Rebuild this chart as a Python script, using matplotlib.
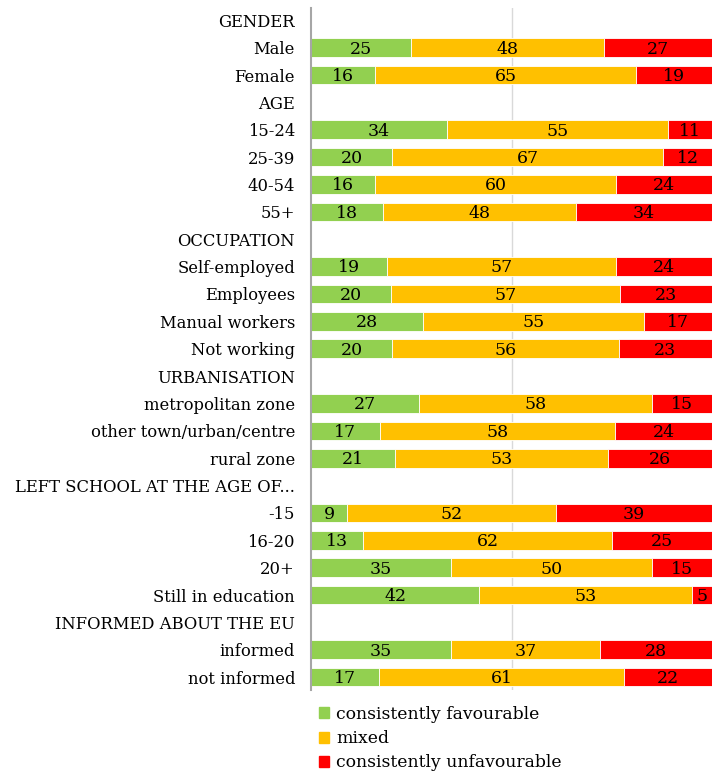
import matplotlib.pyplot as plt
import numpy as np

plt.rcParams['font.family'] = ['DejaVu Serif', 'Liberation Serif']

labels = ['GENDER', 'Male', 'Female', 'AGE', '15-24', '25-39', '40-54', '55+',
          'OCCUPATION', 'Self-employed', 'Employees', 'Manual workers', 'Not working',
          'URBANISATION', 'metropolitan zone', 'other town/urban/centre', 'rural zone',
          'LEFT SCHOOL AT THE AGE OF...', '-15', '16-20', '20+', 'Still in education',
          'INFORMED ABOUT THE EU', 'informed', 'not informed']
# None = header row (no bar)
favourable = [None, 25, 16, None, 34, 20, 16, 18, None, 19, 20, 28, 20,
              None, 27, 17, 21, None, 9, 13, 35, 42, None, 35, 17]
mixed = [None, 48, 65, None, 55, 67, 60, 48, None, 57, 57, 55, 56,
         None, 58, 58, 53, None, 52, 62, 50, 53, None, 37, 61]
unfavourable = [None, 27, 19, None, 11, 12, 24, 34, None, 24, 23, 17, 23,
                None, 15, 24, 26, None, 39, 25, 15, 5, None, 28, 22]

series = ['consistently favourable', 'mixed', 'consistently unfavourable']
colors = ['#92d050', '#ffc000', '#ff0000']

fig = plt.figure(figsize=(7.13, 7.73), dpi=100)
ax = fig.add_axes([311 / 713, 83 / 773, 401 / 713, 682 / 773])

y = np.arange(len(labels))
for i in range(len(labels)):
    if favourable[i] is None:
        continue
    vals = [favourable[i], mixed[i], unfavourable[i]]
    tot = sum(vals)
    left = 0
    for v, c in zip(vals, colors):
        w = v / tot * 100
        ax.barh(y[i], w, left=left, height=0.68, color=c, edgecolor='white', linewidth=0.6)
        ax.text(left + w / 2, y[i] + 0.05, str(v), ha='center', va='center', fontsize=12.5, color='black')
        left += w

ax.set_xlim(0, 100)
ax.set_ylim(len(labels) - 0.53, -0.45)
ax.set_yticks(y)
ax.set_yticklabels(labels, fontsize=11.8)
ax.tick_params(axis='y', length=0, pad=11.5)
ax.set_xticks([50])
ax.tick_params(axis='x', length=0, labelbottom=False)
ax.grid(axis='x', color='#d9d9d9', linewidth=1)
ax.set_axisbelow(True)
for s in ['top', 'right', 'bottom']:
    ax.spines[s].set_visible(False)
ax.spines['left'].set_color('#a6a6a6')
ax.spines['left'].set_linewidth(1.5)

handles = [plt.Rectangle((0, 0), 1, 1, color=c) for c in colors]
fig.legend(handles, series, loc='upper left', bbox_to_anchor=(312 / 713, 1 - 699 / 773),
           frameon=False, fontsize=12.4, handlelength=0.6, handleheight=0.6,
           handletextpad=0.4, labelspacing=0.42, borderaxespad=0)

fig.savefig('out.png', dpi=100)
